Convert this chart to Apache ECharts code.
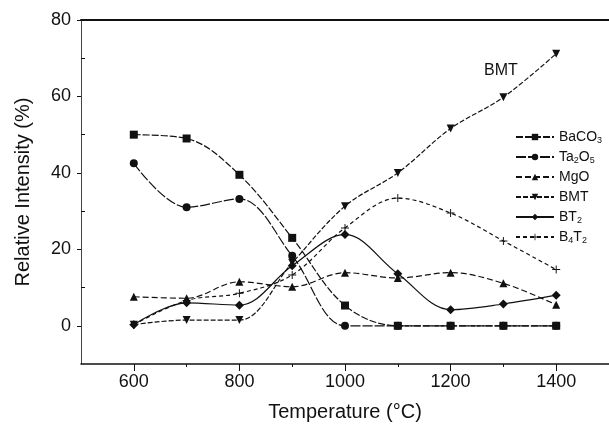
<!DOCTYPE html>
<html>
<head>
<meta charset="utf-8">
<script src="https://cdn.jsdelivr.net/npm/echarts@6/dist/echarts.min.js"></script>
<style>
  html, body { margin: 0; padding: 0; background: #fff; }
  #chart { width: 609px; height: 432px; }
</style>
</head>
<body>
<div id="chart"></div>
<script>
// temperatures (°C)
const temps = [600, 700, 800, 900, 1000, 1100, 1200, 1300, 1400];

// relative intensity (%)
const baco3 = [50, 49, 39.5, 23, 5.3, 0, 0, 0, 0];
const ta2o5 = [42.5, 31, 33.2, 18.3, 0, 0, 0, 0, 0];
const mgo   = [7.6, 7.2, 11.5, 10.2, 13.9, 12.5, 13.9, 11.1, 5.5];
const bmt   = [0.3, 1.5, 1.5, 16.5, 31.3, 40, 51.6, 59.8, 71.2];
const bt2   = [0.3, 6, 5.4, 15.7, 23.9, 13.6, 4.2, 5.7, 8];
const b4t2  = [0.3, 6.6, 8.5, 13.3, 25.6, 33.4, 29.5, 22.2, 14.7];

const xMajor = [600, 800, 1000, 1200, 1400];
const xMinor = [700, 900, 1100, 1300];
const yMajor = [0, 20, 40, 60, 80];
const yMinor = [10, 30, 50, 70];

const ink = '#111';
const plusPath = 'path://M0,4.4H10V5.6H0Z M4.4,0H5.6V10H4.4Z';

function pairs(ys) {
    return temps.map(function (t, i) { return [t, ys[i]]; });
}

function mkSeries(name, ys, symbol, dash, extra) {
    return Object.assign({
        name: name,
        type: 'line',
        smooth: 0.35,
        data: pairs(ys),
        symbol: symbol,
        symbolSize: 8,
        itemStyle: { color: ink },
        lineStyle: { color: ink, width: 1.2, type: dash },
        z: 3
    }, extra || {});
}

const chart = echarts.init(document.getElementById('chart'));

chart.setOption({
    animation: false,
    backgroundColor: '#fff',
    textStyle: { fontFamily: 'Liberation Sans, Arial, sans-serif' },
    grid: { left: 81, right: -2, top: 20, bottom: 68 },
    legend: {
        orient: 'vertical',
        left: 510,
        top: 124,
        itemWidth: 38,
        itemHeight: 8,
        itemGap: 4,
        textStyle: {
            color: ink,
            fontSize: 14,
            lineHeight: 16,
            rich: { s: { fontSize: 9, lineHeight: 9, verticalAlign: 'bottom', color: ink } }
        },
        formatter: function (name) {
            return name.replace(/(\d)/g, '{s|$1}');
        },
        data: ['BaCO3', 'Ta2O5', 'MgO', 'BMT', 'BT2', 'B4T2']
    },
    graphic: [{
        type: 'text',
        left: 484,
        top: 63,
        style: { text: 'BMT', fontSize: 16, fill: ink, fontFamily: 'Liberation Sans, Arial, sans-serif' }
    }],
    xAxis: [{
        type: 'value',
        min: 500,
        max: 1500,
        interval: 100,
        name: 'Temperature (°C)',
        nameLocation: 'middle',
        nameGap: 38,
        nameTextStyle: { fontSize: 20, color: ink },
        axisLine: { onZero: false, lineStyle: { color: ink, width: 1.5 } },
        axisTick: { customValues: xMajor, length: 7, lineStyle: { color: ink } },
        axisLabel: {
            customValues: xMajor, fontSize: 18, color: ink, margin: 9,
            formatter: function (v) { return String(v); }
        },
        splitLine: { show: false }
    }, {
        type: 'value',
        min: 500,
        max: 1500,
        interval: 100,
        position: 'bottom',
        axisLine: { show: false, onZero: false },
        axisTick: { customValues: xMinor, length: 3, lineStyle: { color: ink } },
        axisLabel: { show: false },
        splitLine: { show: false }
    }, {
        type: 'value',
        min: 500,
        max: 1500,
        position: 'top',
        axisLine: { onZero: false, lineStyle: { color: ink, width: 2 } },
        axisTick: { show: false },
        axisLabel: { show: false },
        splitLine: { show: false }
    }],
    yAxis: [{
        type: 'value',
        min: -10,
        max: 80,
        interval: 10,
        name: 'Relative Intensity (%)',
        nameLocation: 'middle',
        nameGap: 48,
        nameTextStyle: { fontSize: 20, color: ink },
        axisLine: { onZero: false, lineStyle: { color: '#444', width: 1 } },
        axisTick: { customValues: yMajor, length: 4, lineStyle: { color: ink } },
        axisLabel: { customValues: yMajor, fontSize: 18, color: ink, margin: 10 },
        splitLine: { show: false }
    }, {
        type: 'value',
        min: -10,
        max: 80,
        interval: 10,
        position: 'left',
        axisLine: { show: false, onZero: false },
        axisTick: { customValues: yMinor, inside: true, length: 4, lineStyle: { color: ink } },
        axisLabel: { show: false },
        splitLine: { show: false }
    }, {
        type: 'value',
        min: -10,
        max: 80,
        position: 'right',
        axisLine: { onZero: false, lineStyle: { color: '#bbb', width: 1 } },
        axisTick: { show: false },
        axisLabel: { show: false },
        splitLine: { show: false }
    }],
    series: [
        mkSeries('BaCO3', baco3, 'rect', [7, 2]),
        mkSeries('Ta2O5', ta2o5, 'circle', [10, 2]),
        mkSeries('MgO', mgo, 'triangle', [6, 3]),
        mkSeries('BMT', bmt, 'triangle', [5, 2], { symbolRotate: 180 }),
        mkSeries('BT2', bt2, 'diamond', 'solid', { symbolSize: 9 }),
        mkSeries('B4T2', b4t2, plusPath, [4, 3], { symbolSize: 8 })
    ]
});
</script>
</body>
</html>
